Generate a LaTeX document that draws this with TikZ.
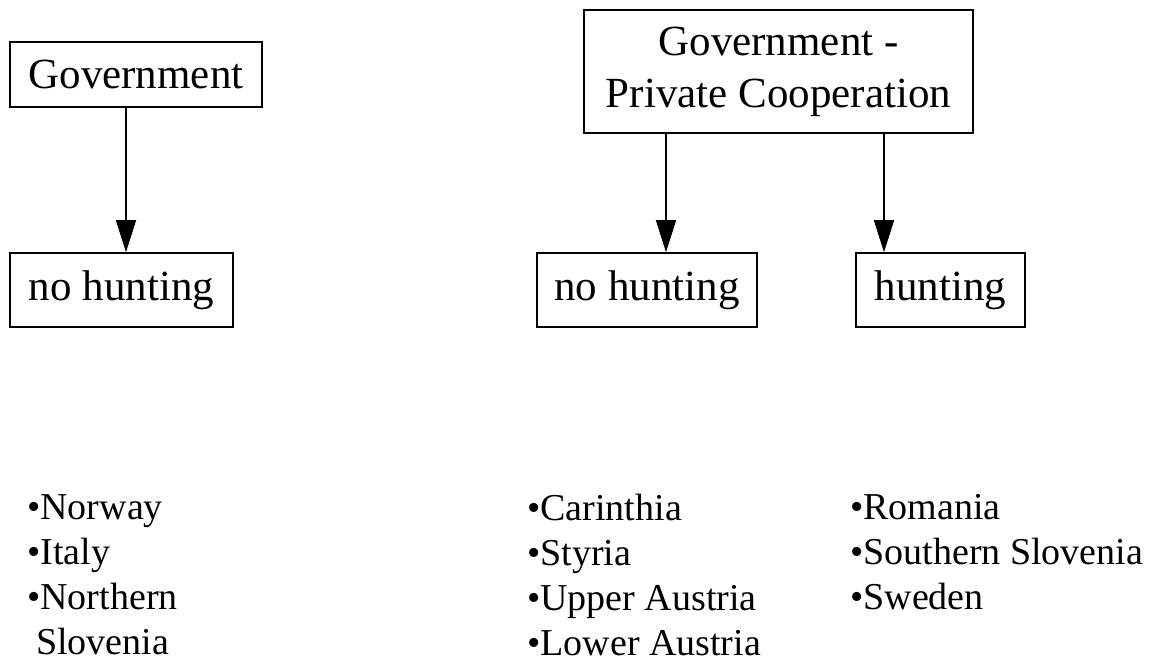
\documentclass[tikz,border=0pt]{standalone}
\usepackage{fontspec}
\setmainfont{Liberation Serif}
\usetikzlibrary{arrows.meta}
\begin{document}
\begin{tikzpicture}[x=1pt,y=-1pt,
  box/.style={draw,line width=1.6pt,inner sep=0pt,align=center,
    font=\fontsize{43}{52}\selectfont},
  link/.style={line width=1.6pt,-{Triangle[length=32pt,width=20pt]}},
  list/.style={anchor=north west,inner sep=0pt,align=left,
    font=\fontsize{38}{45}\selectfont}]
\useasboundingbox (0,0) rectangle (1152,663);

% authority boxes
\node[box,minimum width=252pt,minimum height=65pt] (gov) at (136,74.5) {Government};
\node[box,minimum width=389pt,minimum height=123pt] (gpc) at (778.5,71.5)
  {Government -\\Private Cooperation};

% outcome boxes
\node[box,minimum width=223pt,minimum height=74pt] (nh1) at (121.5,290) {no hunting};
\node[box,minimum width=220pt,minimum height=74pt] (nh2) at (647,290) {no hunting};
\node[box,minimum width=169pt,minimum height=74pt] (hunt) at (940.5,290) {hunting};

% connectors
\draw[link] ([xshift=-10pt]gov.south) -- ([xshift=4.5pt]nh1.north);
\draw[link] ([xshift=-112.5pt]gpc.south) -- ([xshift=19pt]nh2.north);
\draw[link] ([xshift=105.5pt]gpc.south) -- ([xshift=-56.5pt]hunt.north);

% country lists
\node[list] (l1) at (27,494) {•Norway\\•Italy\\•Northern\\\hspace{9pt}Slovenia};
\node[list] (l2) at (527,494) {•Carinthia\\•Styria\\•Upper Austria\\•Lower Austria};
\node[list] (l3) at (850,494) {•Romania\\•Southern Slovenia\\•Sweden};
\end{tikzpicture}
\end{document}
